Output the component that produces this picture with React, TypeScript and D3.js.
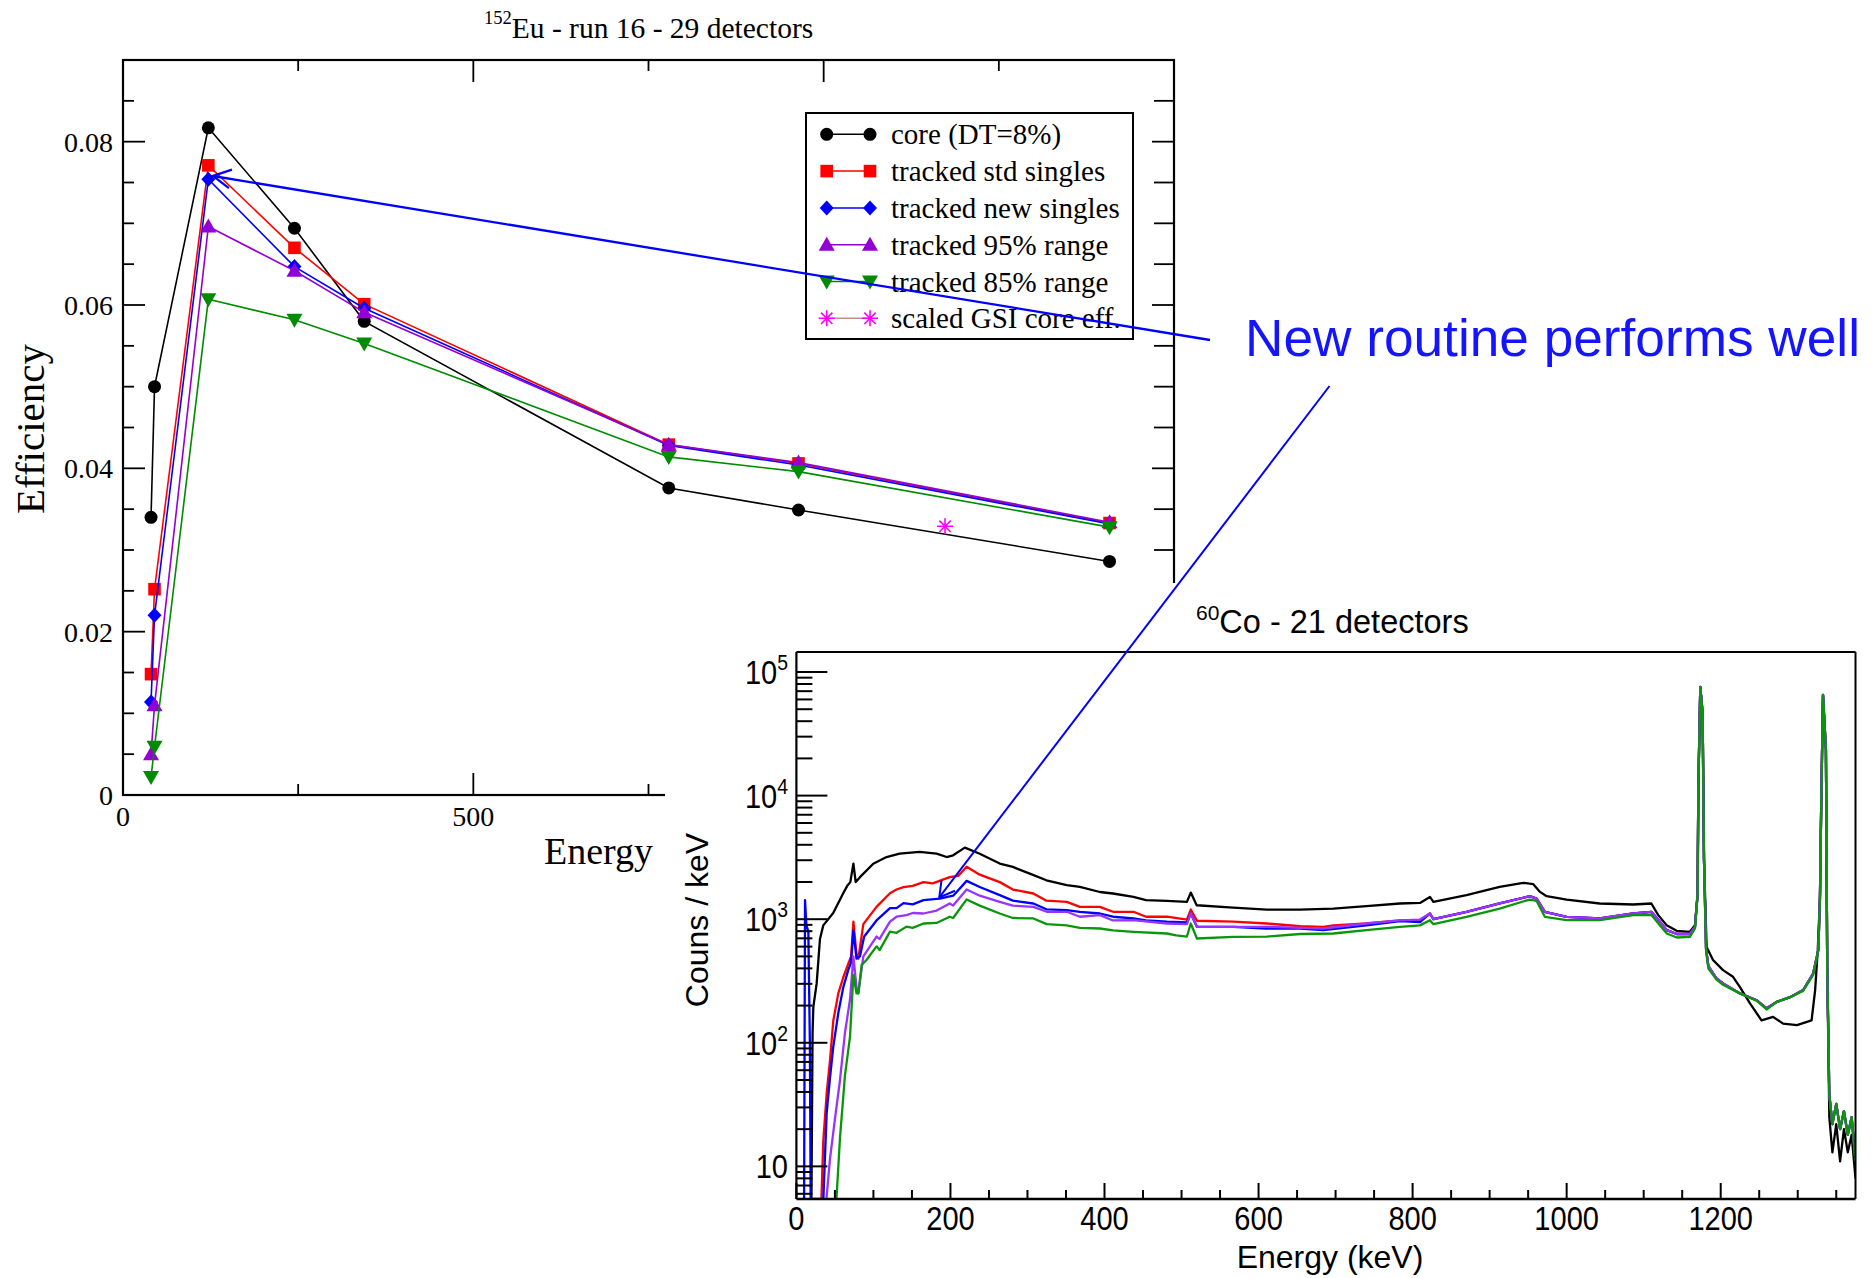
import React from 'react';
import * as d3 from 'd3';

// ---------------- Top chart: 152Eu efficiency ----------------
const euEnergies = [40, 45, 121.8, 244.7, 344.3, 778.9, 964.1, 1408];
const coreEff = [0.034, 0.05, 0.0817, 0.0694, 0.058, 0.0376, 0.0349, 0.0286];
const stdSinglesEff = [0.0148, 0.0252, 0.0771, 0.067, 0.0601, 0.0429, 0.0406, 0.0333];
const newSinglesEff = [0.0114, 0.022, 0.0754, 0.0647, 0.0596, 0.0428, 0.0404, 0.0332];
const range95Eff = [0.005, 0.011, 0.0696, 0.0642, 0.0591, 0.0429, 0.0407, 0.0334];
const range85Eff = [0.0022, 0.0059, 0.0607, 0.0582, 0.0553, 0.0414, 0.0396, 0.0328];
const gsiEnergies = [1173.2];
const gsiEff = [0.0329];

const effYTicks = [0, 0.02, 0.04, 0.06, 0.08];
const effXTicks = [0, 500, 1000, 1500];

// ---------------- Bottom chart: 60Co spectrum (keV, counts/keV) ----------------
const coreSpectrum: [number, number][] = [
  [19.5, 1], [21, 120], [22, 195], [26.3, 302], [30.6, 692], [34.9, 891], [47.8, 1122], [60.8, 1622],
  [66, 1862], [70, 1995], [74, 2818], [77, 1995], [82.5, 2188], [99.8, 2812], [117, 3184], [134, 3388],
  [160, 3499], [182, 3388], [195, 3184], [203.5, 3289], [218.7, 3793], [238, 3388], [264, 2818],
  [281, 2649], [303, 2339], [324.6, 2065], [351, 1884], [368, 1824], [394, 1660], [411, 1614],
  [437.5, 1514], [454, 1426], [481, 1406], [507, 1380], [512, 1641], [519.7, 1297], [567, 1242],
  [610.6, 1197], [653.8, 1197], [697, 1219], [740, 1274], [783.6, 1340], [809.6, 1355], [822.5, 1514],
  [827, 1380], [870, 1563], [913, 1824], [943.6, 1968], [956.7, 1919], [965.4, 1663], [974, 1535],
  [1000, 1442], [1043, 1340], [1086.5, 1315], [1110, 1340], [1118.9, 1079], [1129.8, 895],
  [1142.8, 805], [1160, 791], [1166.6, 895], [1170, 1622], [1171, 12023], [1173.5, 75336],
  [1176.5, 46774], [1178.3, 3090], [1181.7, 597], [1190, 467], [1203, 387], [1216, 342], [1225, 282],
  [1238, 208], [1253, 152], [1268, 162], [1281, 143], [1299, 139], [1318, 152], [1322.6, 267],
  [1326, 562], [1329, 1585], [1330.5, 8511], [1332.8, 64565], [1336.6, 23442], [1338.3, 407],
  [1341, 25], [1345, 13], [1350, 22], [1355, 11], [1360, 20], [1365, 13], [1370, 18], [1375, 8],
];

const taggedHighTail: [number, number][] = [
  [870, 1148], [913, 1340], [952, 1535], [961, 1469], [971.7, 1148], [1000, 1045], [1043, 1014],
  [1086.5, 1112], [1110, 1148], [1121, 955], [1130, 815], [1143, 759], [1160, 759], [1166.6, 867],
  [1170, 1585], [1171, 12023], [1173.5, 75858], [1176.5, 46774], [1178.3, 3090], [1181, 575],
  [1184, 417], [1194.6, 331], [1203, 302], [1225, 251], [1246.6, 221], [1259.6, 190], [1272.6, 214],
  [1290, 234], [1307, 267], [1320, 363], [1326.7, 562], [1328.8, 1426], [1330.5, 8511],
  [1332.8, 65313], [1336.6, 23442], [1338.3, 407], [1341, 38], [1345, 22], [1350, 32], [1355, 20],
  [1360, 28], [1365, 18], [1370, 25], [1375, 11],
];

const stdSpectrumLow: [number, number][] = [
  [32.5, 1], [34.9, 16], [39.3, 39], [43.6, 72], [47.9, 151], [54.4, 251], [60.9, 339], [67.4, 437],
  [71, 501], [74, 955], [78, 525], [80.4, 479], [86.9, 912], [104, 1259], [121.5, 1622], [130, 1738],
  [139, 1820], [151, 1862], [165, 1995], [177, 1950], [199, 2188], [210, 2239], [221, 2661],
  [238, 2291], [264, 1995], [281, 1738], [307.6, 1614], [324.6, 1413], [351, 1380], [368, 1259],
  [394, 1259], [411, 1148], [437.5, 1148], [454, 1047], [481, 1047], [507, 993], [512, 1197],
  [520, 971], [567, 955], [610.6, 923], [654, 877], [684, 867], [697, 891], [740, 923], [783.6, 977],
  [809.6, 977], [822.5, 1112], [827, 1000],
];

const newSpectrumLow: [number, number][] = [
  [8, 1], [10, 1], [11.2, 1426], [13, 891], [15.5, 794], [17.5, 100], [18.5, 1], [35, 1],
  [39.3, 27], [43.6, 52], [47.9, 93], [54.4, 174], [60.9, 282], [67.4, 389], [71, 447], [74, 813],
  [78, 479], [82.5, 501], [88, 724], [104, 977], [121.5, 1230], [130, 1230], [139, 1349], [151, 1318],
  [165, 1426], [186, 1469], [203.5, 1549], [208, 1660], [221, 2042], [238, 1820], [264, 1567],
  [281, 1413], [307.6, 1340], [324.6, 1202], [351, 1183], [368, 1148], [394, 1112], [411, 1047],
  [437.5, 1014], [454, 977], [481, 955], [507, 944], [512, 1112], [520, 867], [567, 867], [610, 841],
  [654, 841], [684, 815], [740, 891], [783.6, 966], [809.6, 948], [822.5, 1112], [827, 1000],
];

const range95SpectrumLow: [number, number][] = [
  [39, 1], [43.6, 11.5], [50, 24], [56.6, 50], [63, 120], [69.6, 224], [74, 501], [78, 282],
  [80.4, 251], [86.9, 501], [104, 724], [108, 692], [121.5, 955], [130, 1047], [143, 1079],
  [151, 1122], [165, 1112], [182, 1175], [199, 1340], [203.5, 1288], [221, 1738], [238, 1549],
  [264, 1380], [281, 1288], [307.6, 1259], [325, 1148], [351, 1148], [368, 1047], [394, 1079],
  [411, 977], [437.5, 984], [481, 923], [507, 912], [512, 1112], [520, 867], [567, 867], [610, 867],
  [654, 851], [684, 841], [740, 923], [783.6, 977], [809.6, 993], [822.5, 1112], [827, 1000],
];

const range85Spectrum: [number, number][] = [
  [52, 1], [56.6, 17], [63, 54], [69.6, 112], [74, 355], [78, 251], [80.4, 251], [84.7, 427],
  [91, 468], [104, 603], [108, 562], [121.5, 794], [130, 776], [143, 871], [151, 851], [165, 923],
  [182, 933], [199, 1047], [203.5, 1023], [221, 1445], [238, 1288], [264, 1112], [281, 1023],
  [307.6, 1014], [325, 912], [351, 891], [368, 851], [394, 841], [411, 813], [437.5, 791], [481, 766],
  [493, 741], [507, 724], [512, 923], [520, 698], [567, 719], [610.6, 724], [654, 759], [697, 766],
  [740, 815], [783.6, 867], [809.6, 891], [822.5, 982], [827, 912], [870, 1045], [913, 1219],
  [952, 1442], [961, 1406], [971.7, 1045], [1000, 982], [1043, 982], [1086.5, 1079], [1110, 1079],
  [1121, 895], [1130, 766], [1143, 711], [1160, 719], [1166.6, 841], [1170, 1585], [1171, 12023],
  [1173.5, 75336], [1176.5, 46774], [1178.3, 3090], [1181, 550], [1184, 398], [1194.6, 324],
  [1203, 295], [1225, 251], [1246.6, 219], [1259.6, 186], [1272.6, 214], [1290, 234], [1307, 263],
  [1320, 355], [1326.7, 562], [1328.8, 1426], [1330.5, 8511], [1332.8, 65313], [1336.6, 23442],
  [1338.3, 407], [1341, 38], [1345, 22], [1350, 32], [1355, 20], [1360, 28], [1365, 18], [1370, 25],
  [1375, 11],
];

const spectrumXTicks = [0, 200, 400, 600, 800, 1000, 1200];
const spectrumDecades = [1, 2, 3, 4, 5];

// ---------------- Layout ----------------
const W = 1873;
const H = 1278;
const serif = '"Liberation Serif", "Times New Roman", serif';
const sans = '"Liberation Sans", Arial, Helvetica, sans-serif';

const xT = d3.scaleLinear().domain([0, 1500]).range([123, 1174]);
const yT = d3.scaleLinear().domain([0, 0.09]).range([795, 60]);
const xB = d3.scaleLinear().domain([0, 1375]).range([796.4, 1855.5]);
const yB = d3.scaleLog().domain([5.445, 145200]).range([1199, 652]).clamp(true);

type MarkerType = 'circle' | 'square' | 'diamond' | 'triUp' | 'triDown' | 'star';

function Marker({ type, x, y, color }: { type: MarkerType; x: number; y: number; color: string }) {
  switch (type) {
    case 'circle':
      return <circle cx={x} cy={y} r={6.5} fill={color} />;
    case 'square':
      return <rect x={x - 6.3} y={y - 6.3} width={12.6} height={12.6} fill={color} />;
    case 'diamond':
      return <path d={`M${x},${y - 7.5}L${x + 7},${y}L${x},${y + 7.5}L${x - 7},${y}Z`} fill={color} />;
    case 'triUp':
      return <path d={`M${x},${y - 8}L${x + 8},${y + 6}L${x - 8},${y + 6}Z`} fill={color} />;
    case 'triDown':
      return <path d={`M${x},${y + 8}L${x + 8},${y - 6}L${x - 8},${y - 6}Z`} fill={color} />;
    case 'star': {
      const r = 8;
      const q = 5.7;
      return (
        <path
          d={`M${x - r},${y}L${x + r},${y}M${x},${y - r}L${x},${y + r}M${x - q},${y - q}L${x + q},${y + q}M${x - q},${y + q}L${x + q},${y - q}`}
          stroke={color}
          strokeWidth={1.6}
          fill="none"
        />
      );
    }
  }
  return null;
}

const topSeries = [
  { label: 'core (DT=8%)', xs: euEnergies, ys: coreEff, color: '#000000', line: '#000000', marker: 'circle' as MarkerType },
  { label: 'tracked std singles', xs: euEnergies, ys: stdSinglesEff, color: '#ff0000', line: '#ff0000', marker: 'square' as MarkerType },
  { label: 'tracked new singles', xs: euEnergies, ys: newSinglesEff, color: '#0000ff', line: '#0000ff', marker: 'diamond' as MarkerType },
  { label: 'tracked 95% range', xs: euEnergies, ys: range95Eff, color: '#9400d3', line: '#9400d3', marker: 'triUp' as MarkerType },
  { label: 'tracked 85% range', xs: euEnergies, ys: range85Eff, color: '#008b00', line: '#008b00', marker: 'triDown' as MarkerType },
  { label: 'scaled GSI core eff.', xs: gsiEnergies, ys: gsiEff, color: '#ff00ff', line: '#bc8f8f', marker: 'star' as MarkerType },
];

const spectra = [
  { data: coreSpectrum, color: '#000000' },
  { data: stdSpectrumLow.concat(taggedHighTail), color: '#ff0000' },
  { data: newSpectrumLow.concat(taggedHighTail), color: '#0000ff' },
  { data: range95SpectrumLow.concat(taggedHighTail), color: '#9933ff' },
  { data: range85Spectrum, color: '#0a960a' },
];

function arrowHead(tipX: number, tipY: number, fromX: number, fromY: number, len: number, half: number) {
  const a = Math.atan2(fromY - tipY, fromX - tipX);
  const a1 = a + (half * Math.PI) / 180;
  const a2 = a - (half * Math.PI) / 180;
  return `M${tipX + len * Math.cos(a1)},${tipY + len * Math.sin(a1)}L${tipX},${tipY}L${tipX + len * Math.cos(a2)},${tipY + len * Math.sin(a2)}`;
}

export default function App() {
  const pathFor = (xs: number[], ys: number[]) =>
    d3.line<number>().x((d, i) => xT(xs[i])).y((d) => yT(d))(ys) || '';

  const specLine = d3
    .line<[number, number]>()
    .x((d) => xB(d[0]))
    .y((d) => yB(d[1]));

  // top chart ticks
  const yMinor = d3.range(0, 0.0901, 0.005);
  const xMinorT = d3.range(0, 1501, 250);
  const isMajorY = (v: number) => Math.abs(v / 0.02 - Math.round(v / 0.02)) < 1e-6;

  const legendTop = 134.3;
  const legendStep = 36.8;

  // bottom chart ticks
  const yMinorB: { v: number; major: boolean }[] = [];
  for (let k = 0; k <= 5; k++) {
    for (let m = 1; m <= 9; m++) {
      const v = m * Math.pow(10, k);
      if (v >= 5.445 && v <= 145200) yMinorB.push({ v, major: m === 1 });
    }
  }
  const xMinorB = d3.range(0, 1376, 50);

  const arrow1 = { x1: 1210, y1: 340, x2: 213, y2: 176 };
  const arrow2 = { x1: 1329.5, y1: 386, x2: 939.3, y2: 897.3 };
  const blue = '#0000ff';

  return (
    <svg width={W} height={H} style={{ position: 'absolute', left: 0, top: 0, background: '#ffffff' }}>
      <rect x={0} y={0} width={W} height={H} fill="#ffffff" />

      {/* ============ Top chart ============ */}
      <g fontFamily={serif}>
        <text x={484} y={38} fontSize={29.5} fill="#000">
          <tspan fontSize={18.5} dy={-14}>152</tspan>
          <tspan dy={14}>Eu - run 16 - 29 detectors</tspan>
        </text>

        {/* frame */}
        <rect x={xT(0)} y={yT(0.09)} width={xT(1500) - xT(0)} height={yT(0) - yT(0.09)} fill="none" stroke="#000" strokeWidth={2.2} />

        {yMinor.map((v) => {
          const major = isMajorY(v);
          const y = yT(v);
          const len = major ? 22 : 11;
          return (
            <g key={`yt${v}`}>
              <line x1={xT(0)} x2={xT(0) + len} y1={y} y2={y} stroke="#000" strokeWidth={1.8} />
              <line x1={xT(1500)} x2={xT(1500) - (major ? 22 : 20)} y1={y} y2={y} stroke="#000" strokeWidth={1.8} />
            </g>
          );
        })}
        {xMinorT.map((v) => {
          const major = v % 500 === 0;
          const x = xT(v);
          const len = major ? 22 : 11;
          return (
            <g key={`xt${v}`}>
              <line x1={x} x2={x} y1={yT(0)} y2={yT(0) - len} stroke="#000" strokeWidth={1.8} />
              <line x1={x} x2={x} y1={yT(0.09)} y2={yT(0.09) + len} stroke="#000" strokeWidth={1.8} />
            </g>
          );
        })}
        {effYTicks.map((v) => (
          <text key={`yl${v}`} x={113} y={yT(v) + 10} fontSize={28} textAnchor="end" fill="#000">
            {v === 0 ? '0' : d3.format('.2f')(v)}
          </text>
        ))}
        {effXTicks.map((v) => (
          <text key={`xl${v}`} x={xT(v)} y={826} fontSize={28} textAnchor="middle" fill="#000">
            {v}
          </text>
        ))}
        <text x={544} y={864} fontSize={38} fill="#000">Energy</text>
        <text transform="translate(44,429) rotate(-90)" fontSize={41} textAnchor="middle" fill="#000">Efficiency</text>

        {topSeries.map((s, si) => (
          <g key={`ts${si}`}>
            {s.xs.length > 1 && <path d={pathFor(s.xs, s.ys)} fill="none" stroke={s.line} strokeWidth={1.6} />}
            {s.ys.map((v, i) => (
              <Marker key={i} type={s.marker} x={xT(s.xs[i])} y={yT(v)} color={s.color} />
            ))}
          </g>
        ))}

        {/* legend */}
        <rect x={806} y={113} width={327} height={226} fill="#fff" stroke="#000" strokeWidth={2} />
        {topSeries.map((s, i) => {
          const cy = legendTop + legendStep * i;
          return (
            <g key={`lg${i}`}>
              <line x1={826.7} x2={870} y1={cy} y2={cy} stroke={s.line} strokeWidth={1.5} />
              <Marker type={s.marker} x={826.7} y={cy} color={s.color} />
              <Marker type={s.marker} x={870} y={cy} color={s.color} />
              <text x={891} y={cy + 10} fontSize={29} fill="#000">{s.label}</text>
            </g>
          );
        })}
      </g>

      {/* ============ Bottom chart (pasted over) ============ */}
      <rect x={665} y={583} width={W - 665} height={H - 583} fill="#ffffff" />
      <g fontFamily={sans}>
        <text x={1196} y={633} fontSize={32.5} fill="#000">
          <tspan fontSize={21} dy={-13}>60</tspan>
          <tspan dy={13}>Co - 21 detectors</tspan>
        </text>

        <defs>
          <clipPath id="specClip">
            <rect x={xB(0)} y={yB(145200)} width={xB(1375) - xB(0)} height={yB(5.445) - yB(145200)} />
          </clipPath>
        </defs>

        <g clipPath="url(#specClip)">
          {spectra.map((s, i) => (
            <path key={`sp${i}`} d={specLine(s.data) || ''} fill="none" stroke={s.color} strokeWidth={2.3} strokeLinejoin="round" />
          ))}
        </g>

        <line x1={xB(0)} x2={xB(1375)} y1={652} y2={652} stroke="#000" strokeWidth={2} />
        <line x1={xB(1375)} x2={xB(1375)} y1={652} y2={1199} stroke="#000" strokeWidth={2} />
        <line x1={xB(0)} x2={xB(0)} y1={652} y2={1199} stroke="#000" strokeWidth={2.2} />
        <line x1={xB(0)} x2={xB(1375)} y1={1199} y2={1199} stroke="#000" strokeWidth={2.6} />

        {yMinorB.map((t) => (
          <line key={`by${t.v}`} x1={xB(0)} x2={xB(0) + (t.major ? 31 : 16)} y1={yB(t.v)} y2={yB(t.v)} stroke="#000" strokeWidth={2} />
        ))}
        {xMinorB.map((v) => (
          <line key={`bx${v}`} x1={xB(v)} x2={xB(v)} y1={1199} y2={1199 - (v % 200 === 0 ? 16 : 9)} stroke="#000" strokeWidth={2} />
        ))}

        {spectrumXTicks.map((v) => (
          <text key={`bxl${v}`} transform={`translate(${xB(v)},1230) scale(0.88,1)`} fontSize={33} textAnchor="middle" fill="#000">
            {v}
          </text>
        ))}
        {spectrumDecades.map((k) => (
          <text key={`byl${k}`} transform={`translate(788,${yB(Math.pow(10, k)) + 12}) scale(0.88,1)`} fontSize={33} textAnchor="end" fill="#000">
            {k === 1 ? (
              '10'
            ) : (
              <>
                10<tspan fontSize={22} dy={-14}>{k}</tspan>
              </>
            )}
          </text>
        ))}
        <text x={1330} y={1268} fontSize={32} textAnchor="middle" fill="#000">Energy (keV)</text>
        <text transform="translate(708,920) rotate(-90)" fontSize={32} textAnchor="middle" fill="#000">Couns / keV</text>
      </g>

      {/* ============ Annotation ============ */}
      <line x1={arrow1.x1} y1={arrow1.y1} x2={arrow1.x2} y2={arrow1.y2} stroke={blue} strokeWidth={2.3} />
      <path d={arrowHead(arrow1.x2, arrow1.y2, arrow1.x1, arrow1.y1, 20, 28)} stroke={blue} strokeWidth={2.3} fill="none" />
      <line x1={arrow2.x1} y1={arrow2.y1} x2={arrow2.x2} y2={arrow2.y2} stroke={blue} strokeWidth={2} />
      <path d={arrowHead(arrow2.x2, arrow2.y2, arrow2.x1, arrow2.y1, 17, 30)} stroke={blue} strokeWidth={2} fill="none" />
      <text x={1245} y={356} fontFamily={sans} fontSize={51} textLength={615} lengthAdjust="spacingAndGlyphs" fill="#1414ff">
        New routine performs well
      </text>
    </svg>
  );
}
